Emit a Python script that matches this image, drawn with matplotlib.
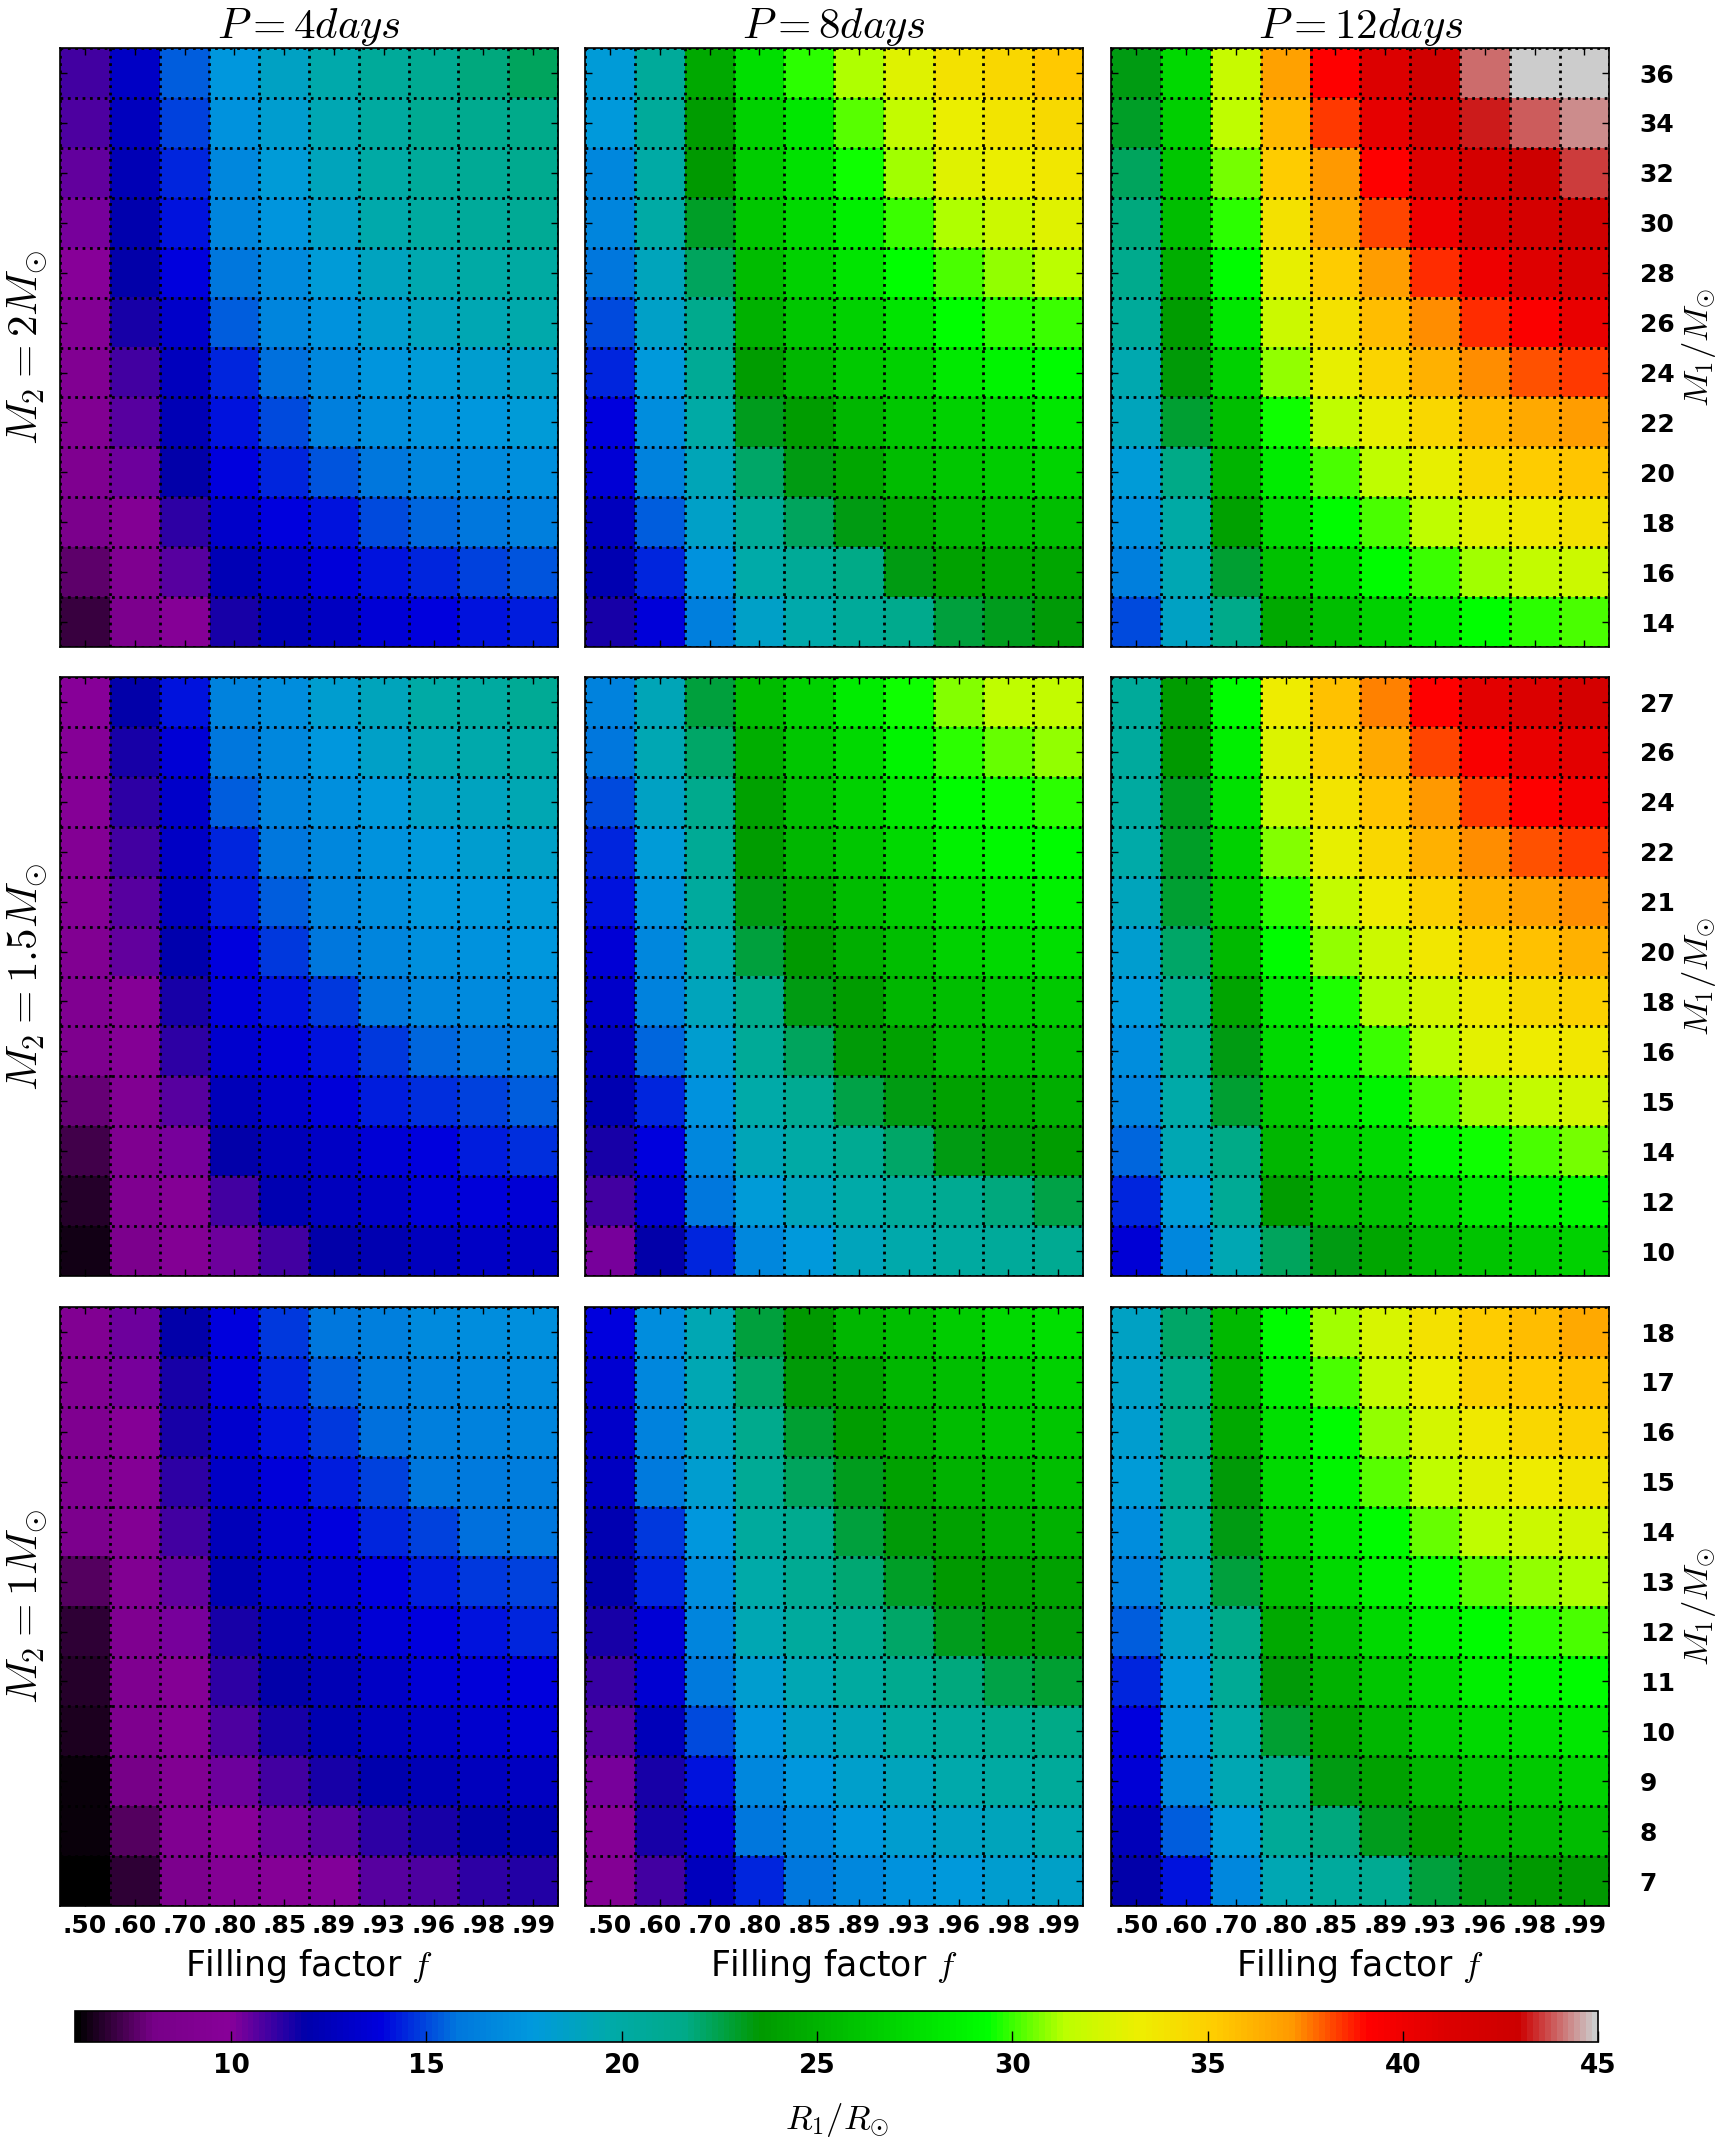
#! /usr/bin/env python3

import numpy as np
import matplotlib
matplotlib.use("Agg")
import matplotlib.pyplot as plt

plt.rcParams['mathtext.fontset'] = 'cm'

# filling factor columns and period titles
fill_labels = ['.50', '.60', '.70', '.80', '.85', '.89', '.93', '.96', '.98', '.99']
period_titles = [r'$P=4days$', r'$P=8days$', r'$P=12days$']
m2_titles = [r'$M_2=2M_{\odot}$', r'$M_2=1.5M_{\odot}$', r'$M_2=1M_{\odot}$']

# M1 tick labels, top row of each panel first
m1_labels_m2_2 = ['36', '34', '32', '30', '28', '26', '24', '22', '20', '18', '16', '14']
m1_labels_m2_15 = ['27', '26', '24', '22', '21', '20', '18', '16', '15', '14', '12', '10']
m1_labels_m2_1 = ['18', '17', '16', '15', '14', '13', '12', '11', '10', '9', '8', '7']

# R1/Rsun, rows listed from top (largest M1) to bottom
r1_m2_2_p4 = [
    [11.0, 13.0, 15.3, 17.7, 18.7, 19.6, 20.5, 21.0, 21.8, 22.2],
    [10.8, 12.6, 14.9, 17.3, 18.3, 19.4, 20.3, 21.0, 21.2, 21.5],
    [10.5, 12.3, 14.5, 16.7, 17.9, 19.0, 20.0, 20.6, 20.9, 21.2],
    [10.2, 12.0, 14.2, 16.6, 17.5, 18.5, 19.6, 20.2, 20.5, 20.8],
    [9.9, 11.8, 13.8, 15.8, 16.9, 17.9, 18.9, 19.5, 19.9, 20.1],
    [9.5, 11.5, 13.1, 15.3, 16.6, 17.4, 18.3, 18.9, 19.3, 19.6],
    [9.3, 11.0, 12.6, 14.5, 15.7, 16.7, 17.5, 17.9, 18.3, 18.6],
    [9.2, 10.7, 12.3, 14.1, 15.1, 16.3, 17.0, 17.4, 17.7, 17.9],
    [9.0, 10.3, 11.9, 13.8, 14.4, 15.2, 15.9, 16.6, 16.9, 17.2],
    [8.5, 9.5, 11.2, 13.1, 13.8, 14.2, 15.0, 15.5, 15.9, 16.3],
    [7.6, 9.0, 10.6, 12.3, 13.0, 13.7, 14.2, 14.5, 14.9, 15.2],
    [7.0, 8.7, 9.8, 11.6, 12.3, 12.8, 13.5, 13.9, 14.1, 14.3],
]
r1_m2_2_p8 = [
    [17.9, 20.5, 24.5, 27.5, 29.8, 31.2, 32.8, 34.0, 34.5, 35.3],
    [17.8, 20.6, 23.8, 26.8, 28.0, 30.3, 31.6, 33.2, 33.8, 34.4],
    [16.8, 20.0, 23.6, 26.5, 27.7, 29.6, 31.1, 32.8, 33.2, 33.6],
    [16.6, 19.9, 23.0, 26.2, 27.2, 28.5, 30.0, 31.2, 32.0, 32.7],
    [15.8, 19.0, 22.3, 25.5, 26.8, 27.8, 29.4, 30.2, 30.9, 31.3],
    [15.1, 18.5, 21.3, 25.0, 26.2, 26.8, 27.8, 29.4, 29.8, 30.0],
    [14.5, 17.8, 20.8, 23.8, 25.2, 26.3, 26.8, 28.1, 28.8, 29.3],
    [13.9, 17.0, 20.0, 23.1, 23.8, 25.2, 26.2, 26.8, 27.3, 28.0],
    [13.6, 16.5, 19.2, 22.1, 23.3, 24.4, 25.5, 26.2, 26.5, 27.0],
    [12.7, 15.4, 18.5, 20.7, 22.3, 23.3, 24.4, 25.2, 25.5, 25.8],
    [12.1, 14.5, 17.3, 19.8, 20.7, 21.6, 23.3, 24.0, 24.3, 24.4],
    [11.5, 13.7, 16.3, 18.6, 19.7, 20.5, 21.3, 22.7, 23.2, 23.4],
]
r1_m2_2_p12 = [
    [23.3, 27.2, 31.8, 36.8, 39.2, 41.1, 42.5, 44.0, 45.0, 45.0],
    [23.0, 26.6, 31.5, 35.9, 38.3, 40.5, 42.0, 43.2, 43.8, 44.3],
    [22.3, 26.2, 30.6, 35.2, 37.2, 39.2, 40.9, 42.0, 42.8, 43.5],
    [21.8, 25.8, 29.8, 34.0, 36.5, 38.2, 40.0, 41.5, 42.0, 42.5],
    [21.3, 24.8, 29.3, 33.0, 35.2, 37.0, 38.5, 40.0, 40.9, 41.5],
    [20.5, 23.8, 28.0, 32.0, 34.0, 35.8, 37.3, 38.5, 39.3, 40.3],
    [19.5, 23.5, 26.8, 30.9, 33.0, 34.7, 36.2, 37.3, 38.0, 38.3],
    [19.0, 22.8, 25.8, 29.6, 31.5, 33.0, 34.5, 35.9, 36.6, 37.0],
    [17.9, 21.6, 25.1, 28.3, 30.2, 31.5, 33.0, 34.5, 35.2, 35.5],
    [17.2, 20.0, 24.0, 27.3, 29.3, 30.2, 31.5, 32.9, 33.5, 34.0],
    [16.3, 19.3, 22.8, 25.9, 27.3, 29.3, 30.0, 31.1, 31.7, 32.0],
    [15.1, 18.7, 21.4, 24.5, 25.8, 26.8, 28.1, 29.4, 29.8, 30.1],
]
r1_m2_15_p4 = [
    [9.9, 11.8, 14.2, 16.4, 17.0, 18.3, 19.0, 20.0, 20.2, 20.8],
    [9.8, 11.6, 13.6, 15.8, 16.7, 17.7, 18.6, 19.4, 19.6, 20.0],
    [9.7, 11.2, 13.1, 15.3, 16.5, 17.2, 17.8, 18.6, 18.9, 19.3],
    [9.5, 11.0, 12.9, 14.5, 15.9, 16.7, 17.4, 17.8, 18.2, 18.5],
    [9.4, 10.7, 12.6, 14.3, 15.3, 16.4, 17.0, 17.6, 17.8, 17.9],
    [9.3, 10.5, 12.0, 13.9, 14.7, 15.8, 16.6, 17.2, 17.4, 17.6],
    [9.1, 9.8, 11.6, 13.7, 14.2, 14.8, 15.8, 16.6, 16.9, 17.1],
    [8.8, 9.6, 11.2, 13.2, 13.7, 14.1, 14.8, 15.5, 15.9, 16.3],
    [7.8, 9.3, 10.7, 12.4, 13.1, 13.7, 14.3, 14.6, 14.9, 15.3],
    [7.2, 9.0, 10.2, 11.8, 12.4, 12.9, 13.5, 13.9, 14.3, 14.6],
    [6.7, 8.9, 9.6, 11.0, 12.1, 12.6, 12.9, 13.5, 13.7, 13.6],
    [6.4, 8.6, 9.4, 10.4, 11.0, 11.8, 12.2, 12.6, 12.9, 13.0],
]
r1_m2_15_p8 = [
    [16.4, 19.2, 22.7, 25.6, 26.8, 28.3, 29.6, 30.7, 31.5, 31.7],
    [15.8, 19.4, 22.0, 24.8, 26.2, 27.2, 28.7, 29.8, 30.5, 30.9],
    [15.0, 18.7, 21.3, 24.1, 25.8, 26.8, 28.0, 29.2, 29.6, 29.9],
    [14.5, 18.0, 20.8, 23.7, 25.2, 26.2, 27.3, 28.6, 29.1, 29.3],
    [14.1, 17.4, 20.4, 23.3, 24.4, 25.5, 26.5, 27.6, 28.2, 28.6],
    [13.6, 16.8, 19.7, 22.7, 23.6, 24.8, 25.8, 26.8, 27.3, 27.6],
    [13.1, 16.4, 19.0, 21.5, 23.3, 23.8, 25.2, 25.8, 26.2, 26.4],
    [12.7, 15.5, 18.3, 20.7, 22.2, 23.4, 24.1, 25.2, 25.4, 25.6],
    [12.2, 14.5, 17.3, 19.8, 21.0, 22.5, 23.3, 24.0, 24.3, 24.8],
    [11.6, 13.9, 16.8, 19.2, 20.0, 21.0, 22.0, 23.3, 23.5, 23.7],
    [11.0, 13.2, 15.9, 18.0, 19.1, 19.8, 20.5, 21.0, 21.8, 22.5],
    [10.2, 11.9, 14.5, 16.7, 17.8, 19.0, 19.7, 20.2, 20.6, 21.0],
]
r1_m2_15_p12 = [
    [20.6, 23.8, 29.3, 33.3, 35.7, 37.4, 39.1, 40.6, 41.2, 42.0],
    [20.4, 23.6, 28.5, 32.6, 34.8, 36.5, 38.2, 39.4, 40.4, 40.7],
    [20.2, 23.2, 27.7, 31.7, 33.8, 35.5, 37.2, 38.4, 39.2, 39.8],
    [19.8, 23.0, 26.8, 30.8, 33.0, 34.6, 36.2, 37.3, 38.1, 38.4],
    [19.0, 22.8, 26.3, 29.9, 31.7, 33.3, 34.8, 36.2, 36.8, 37.3],
    [18.3, 22.0, 25.4, 29.3, 30.9, 32.0, 33.6, 35.0, 35.7, 36.2],
    [17.8, 21.5, 24.2, 28.0, 29.7, 31.2, 32.3, 33.5, 34.4, 34.9],
    [17.0, 20.8, 23.3, 27.3, 28.7, 30.0, 31.4, 32.9, 33.3, 33.6],
    [16.4, 19.8, 22.8, 26.2, 27.7, 28.7, 30.1, 31.0, 31.7, 32.3],
    [15.5, 19.3, 21.6, 25.2, 26.5, 27.3, 29.0, 29.6, 30.2, 30.6],
    [14.4, 17.9, 20.8, 23.8, 25.2, 25.8, 26.8, 28.0, 28.5, 29.0],
    [13.6, 16.8, 19.4, 22.2, 23.3, 24.4, 25.4, 26.0, 26.5, 26.8],
]
r1_m2_1_p4 = [
    [9.2, 10.4, 11.9, 13.9, 14.8, 15.8, 16.3, 16.9, 17.0, 17.2],
    [9.1, 10.2, 11.6, 13.7, 14.5, 15.3, 16.0, 16.5, 16.7, 16.9],
    [9.0, 9.7, 11.5, 13.2, 14.1, 14.8, 15.6, 16.3, 16.5, 16.6],
    [8.9, 9.6, 11.2, 12.9, 13.7, 14.3, 14.9, 15.8, 16.0, 16.2],
    [8.6, 9.5, 10.9, 12.5, 13.3, 13.8, 14.4, 14.9, 15.6, 15.8],
    [7.4, 9.3, 10.5, 12.1, 12.9, 13.3, 13.9, 14.3, 14.7, 14.9],
    [6.9, 9.0, 10.2, 11.6, 12.3, 12.8, 13.5, 13.8, 14.2, 14.5],
    [6.7, 8.9, 9.6, 11.2, 11.8, 12.3, 12.9, 13.5, 13.7, 13.8],
    [6.5, 8.8, 9.6, 10.8, 11.5, 12.1, 12.6, 13.0, 13.3, 13.5],
    [6.3, 8.1, 9.3, 10.3, 11.0, 11.5, 12.0, 12.3, 12.6, 12.8],
    [6.2, 7.4, 9.1, 9.9, 10.4, 10.7, 11.2, 11.6, 11.8, 12.0],
    [6.0, 6.9, 8.7, 9.4, 9.8, 10.1, 10.6, 10.8, 11.2, 11.4],
]
r1_m2_1_p8 = [
    [13.9, 17.0, 19.4, 22.7, 23.6, 25.3, 25.8, 26.5, 27.2, 27.6],
    [13.4, 16.8, 19.3, 22.0, 23.4, 24.0, 25.2, 25.8, 26.4, 26.8],
    [13.1, 16.4, 18.8, 21.3, 22.8, 23.7, 24.7, 25.5, 26.0, 26.2],
    [12.8, 16.0, 18.3, 20.8, 22.2, 23.2, 24.1, 24.9, 25.3, 25.7],
    [12.2, 14.8, 17.6, 20.4, 21.2, 22.7, 23.4, 24.1, 24.6, 24.9],
    [11.9, 14.5, 17.1, 19.8, 21.0, 21.9, 23.0, 23.6, 23.8, 24.0],
    [11.6, 13.6, 16.6, 19.3, 20.4, 21.2, 22.0, 23.1, 23.4, 23.5],
    [11.1, 13.4, 16.0, 18.2, 19.4, 20.3, 21.2, 21.8, 22.5, 22.8],
    [10.6, 12.5, 15.0, 17.5, 18.6, 19.2, 20.1, 20.6, 21.2, 21.6],
    [10.2, 11.6, 14.2, 16.7, 17.6, 18.4, 19.0, 19.6, 20.1, 20.5],
    [9.6, 11.5, 13.4, 15.8, 16.7, 17.7, 18.3, 18.7, 19.1, 19.5],
    [9.5, 10.9, 12.6, 14.5, 15.8, 16.7, 17.3, 17.8, 18.2, 18.5],
]
r1_m2_1_p12 = [
    [18.7, 22.1, 25.4, 29.3, 31.1, 32.4, 34.0, 35.2, 35.8, 36.6],
    [18.5, 21.4, 24.9, 28.5, 30.2, 31.7, 33.2, 34.8, 35.3, 35.6],
    [18.2, 21.3, 24.5, 27.5, 29.2, 30.9, 32.3, 33.5, 34.5, 34.8],
    [17.9, 20.8, 23.5, 27.3, 28.7, 30.3, 31.5, 32.8, 33.3, 33.8],
    [17.1, 20.1, 23.3, 26.5, 28.0, 29.3, 30.4, 31.5, 32.0, 32.3],
    [16.3, 19.4, 22.7, 25.8, 27.3, 28.6, 29.5, 30.3, 30.9, 31.2],
    [15.4, 18.5, 21.4, 24.5, 25.8, 27.3, 28.4, 29.3, 29.8, 30.1],
    [14.5, 17.8, 20.8, 23.4, 24.9, 26.2, 27.3, 28.4, 28.9, 29.3],
    [13.9, 17.3, 20.0, 22.8, 24.0, 25.3, 26.5, 27.2, 27.6, 28.0],
    [13.6, 16.8, 19.3, 21.3, 23.3, 24.1, 25.3, 26.0, 26.4, 26.8],
    [12.4, 15.4, 17.9, 20.7, 21.7, 23.1, 23.8, 24.9, 25.3, 25.5],
    [11.9, 14.1, 16.7, 19.4, 20.4, 21.0, 22.7, 23.3, 23.6, 23.6],
]

panels = [
    [r1_m2_2_p4, r1_m2_2_p8, r1_m2_2_p12],
    [r1_m2_15_p4, r1_m2_15_p8, r1_m2_15_p12],
    [r1_m2_1_p4, r1_m2_1_p8, r1_m2_1_p12],
]
m1_labels = [m1_labels_m2_2, m1_labels_m2_15, m1_labels_m2_1]

VMIN, VMAX = 6, 45

fig = plt.figure(figsize=(17.31, 21.46), dpi=100)

col_left = [0.0347, 0.338, 0.642]
row_bottom = [0.6985, 0.4054, 0.1118]
ax_w, ax_h = 0.2877, 0.2791

for i in range(3):
    for j in range(3):
        ax = fig.add_axes([col_left[j], row_bottom[i], ax_w, ax_h])
        data = np.array(panels[i][j])
        im = ax.imshow(data, cmap='nipy_spectral', vmin=VMIN, vmax=VMAX,
                       interpolation='nearest', aspect='auto',
                       extent=(0, 10, 12, 0))
        ax.set_xlim(0, 10)
        ax.set_ylim(12, 0)

        # grid on cell edges, labels on cell centres
        ax.set_xticks(np.arange(0, 11))
        ax.set_yticks(np.arange(0, 13))
        ax.set_xticklabels([])
        ax.set_yticklabels([])
        ax.set_xticks(np.arange(10) + 0.5, minor=True)
        ax.set_yticks(np.arange(12) + 0.5, minor=True)
        ax.grid(True, which='major', color='black', linestyle=':', linewidth=2.0)
        ax.tick_params(which='major', length=0)
        ax.tick_params(which='minor', direction='in', length=5, width=1,
                       top=True, bottom=True, left=True, right=True,
                       labelleft=False, labelright=(j == 2),
                       labelbottom=(i == 2), labeltop=False)

        if i == 2:
            ax.set_xticklabels(fill_labels, minor=True, fontsize=18,
                               fontweight='bold')
            ax.tick_params(which='minor', axis='x', pad=6)
            ax.set_xlabel(r'Filling factor $f$', fontsize=25, labelpad=6)
        if j == 2:
            ax.set_yticklabels(m1_labels[i], minor=True, fontsize=18,
                               fontweight='bold')
            ax.tick_params(which='minor', axis='y', pad=22)
            ax.yaxis.set_label_position('right')
            ax.set_ylabel(r'$M_1/M_{\odot}$', fontsize=25, labelpad=4)
        if j == 0:
            ax.set_ylabel(m2_titles[i], fontsize=31, labelpad=4)
        if i == 0:
            ax.set_title(period_titles[j], fontsize=31, pad=4)

        for sp in ax.spines.values():
            sp.set_linewidth(1.2)

cax = fig.add_axes([0.0433, 0.0485, 0.880, 0.0144])
cbar = fig.colorbar(im, cax=cax, orientation='horizontal',
                    ticks=[10, 15, 20, 25, 30, 35, 40, 45])
cbar.ax.tick_params(direction='in', length=8, width=1, labelsize=19, pad=8)
for lab in cbar.ax.get_xticklabels():
    lab.set_fontweight('bold')
cbar.set_label(r'$R_1/R_{\odot}$', fontsize=25, labelpad=16)
cbar.outline.set_linewidth(1.2)

fig.savefig('out.png', dpi=100)
